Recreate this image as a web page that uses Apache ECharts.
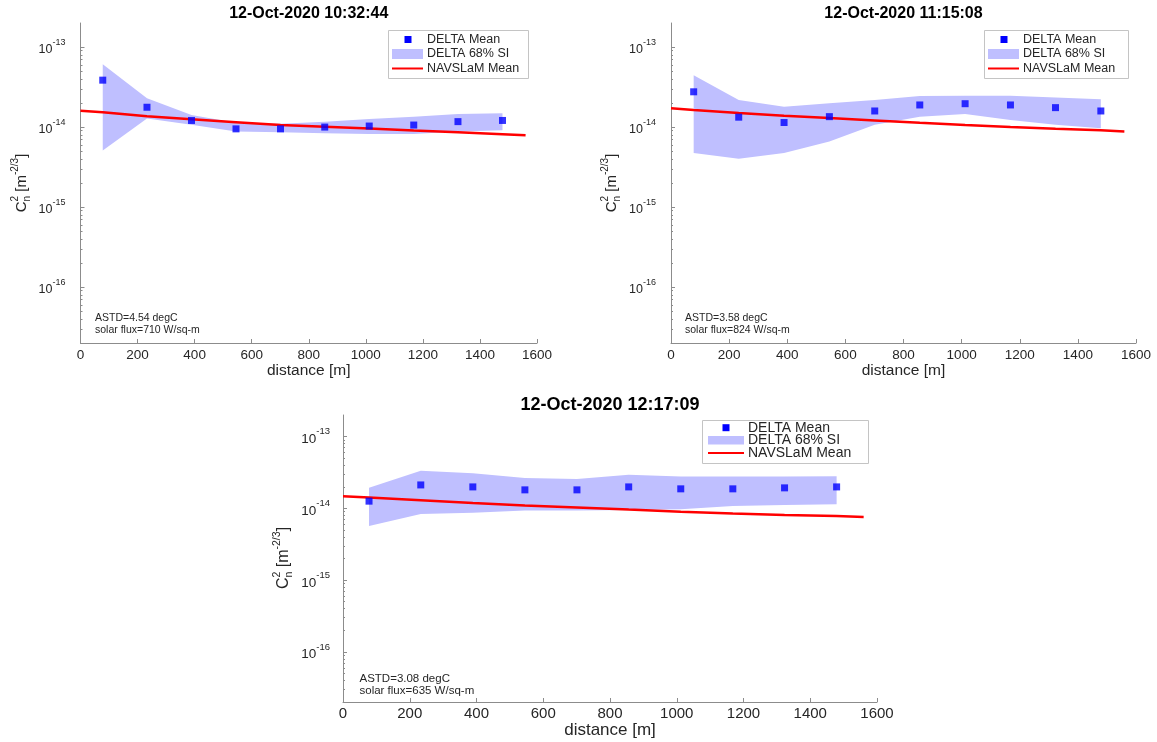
<!DOCTYPE html>
<html>
<head>
<meta charset="utf-8">
<script src="https://cdn.jsdelivr.net/npm/echarts@6/dist/echarts.min.js"></script>
<style>
  html, body { margin: 0; padding: 0; background: #fff; }
  #chart { width: 1157px; height: 742px; }
</style>
</head>
<body>
<div id="chart"></div>
<script>
// Distances along the path [m] at which DELTA statistics are reported
const distance = [78, 233, 389, 545, 701, 856, 1012, 1168, 1323, 1479];
// Distances at which the NAVSLaM model curve is sampled [m]
const navDistance = [0, 78, 233, 389, 545, 701, 856, 1012, 1168, 1323, 1479, 1560];

const titles = ['12-Oct-2020 10:32:44', '12-Oct-2020 11:15:08', '12-Oct-2020 12:17:09'];
const notesASTD = ['ASTD=4.54 degC', 'ASTD=3.58 degC', 'ASTD=3.08 degC'];
const notesFlux = ['solar flux=710 W/sq-m', 'solar flux=824 W/sq-m', 'solar flux=635 W/sq-m'];

const xTicks = [0, 200, 400, 600, 800, 1000, 1200, 1400, 1600];
const yTicks = [1e-16, 1e-15, 1e-14, 1e-13];
const yRange = [2e-17, 2e-13];

// 10:32:44
const deltaMean1 = [3.86e-14, 1.77e-14, 1.21e-14, 9.5e-15, 9.5e-15, 1.0e-14, 1.03e-14, 1.06e-14, 1.17e-14, 1.21e-14];
const deltaLow1  = [5.1e-15, 1.28e-14, 1.07e-14, 8.8e-15, 8.6e-15, 8.4e-15, 8.2e-15, 8.2e-15, 8.8e-15, 9.1e-15];
const deltaHigh1 = [6.1e-14, 2.29e-14, 1.42e-14, 1.13e-14, 1.1e-14, 1.17e-14, 1.26e-14, 1.35e-14, 1.46e-14, 1.49e-14];
const navslam1   = [1.6e-14, 1.53e-14, 1.37e-14, 1.25e-14, 1.15e-14, 1.06e-14, 1.01e-14, 9.6e-15, 9.05e-15, 8.6e-15, 8.15e-15, 7.9e-15];

// 11:15:08
const deltaMean2 = [2.76e-14, 1.33e-14, 1.14e-14, 1.35e-14, 1.59e-14, 1.89e-14, 1.96e-14, 1.89e-14, 1.75e-14, 1.59e-14];
const deltaLow2  = [4.74e-15, 4.03e-15, 4.74e-15, 6.6e-15, 1.07e-14, 1.35e-14, 1.46e-14, 1.23e-14, 1.07e-14, 9.7e-15];
const deltaHigh2 = [4.45e-14, 2.18e-14, 1.8e-14, 1.98e-14, 2.18e-14, 2.44e-14, 2.46e-14, 2.46e-14, 2.35e-14, 2.22e-14];
const navslam2   = [1.72e-14, 1.64e-14, 1.5e-14, 1.39e-14, 1.3e-14, 1.21e-14, 1.13e-14, 1.06e-14, 1.0e-14, 9.5e-15, 9.1e-15, 8.8e-15];

// 12:17:09
const deltaMean3 = [1.26e-14, 2.12e-14, 1.99e-14, 1.81e-14, 1.81e-14, 1.99e-14, 1.87e-14, 1.87e-14, 1.93e-14, 1.99e-14];
const deltaLow3  = [5.69e-15, 8.35e-15, 8.7e-15, 9.3e-15, 9.3e-15, 9.5e-15, 9.7e-15, 1.08e-14, 1.11e-14, 1.14e-14];
const deltaHigh3 = [1.93e-14, 3.35e-14, 3.08e-14, 2.65e-14, 2.57e-14, 2.95e-14, 2.77e-14, 2.77e-14, 2.77e-14, 2.8e-14];
const navslam3   = [1.48e-14, 1.42e-14, 1.3e-14, 1.19e-14, 1.1e-14, 1.03e-14, 9.6e-15, 9.0e-15, 8.5e-15, 8.1e-15, 7.8e-15, 7.6e-15];

const FONT = "'Liberation Sans', Arial, Helvetica, sans-serif";
const axisColor = '#8c8c8c';
const textColor = '#262626';
const bandColor = '#bfbfff';
const markerColor = '#0000ff';
const lineColor = '#ff0000';

// minor ticks of the log axis: 2..9 times each decade inside the range
const minorTicks = [];
for (let e = -17; e <= -14; e++) {
  for (let k = 2; k <= 9; k++) {
    const v = k * Math.pow(10, e);
    if (v >= yRange[0] * 0.999 && v <= yRange[1] * 1.001) minorTicks.push(v);
  }
}

const panels = [
  {
    title: titles[0], mean: deltaMean1, low: deltaLow1, high: deltaHigh1, nav: navslam1,
    astd: notesASTD[0], flux: notesFlux[0],
    grid: { left: 80.5, top: 23, width: 456.5, height: 320 },
    titleTop: 6, titleSize: 16, tickSize: 13.5, yBase: 12.5, ySup: 9, yMargin: 15, xMargin: 5,
    nameSize: 15.5, nameGap: 19,
    legend: { x: 388, y: 30, w: 140, h: 48, rows: [9.5, 24, 38.5], marker: 20, bandX: [4, 35], bandH: 10, textX: 39, font: 12.5 },
    note: { x: 95, y1: 318, y2: 330, font: 10.5 },
    ylabel: { x: 22, y: 183, big: 15, small: 10 }
  },
  {
    title: titles[1], mean: deltaMean2, low: deltaLow2, high: deltaHigh2, nav: navslam2,
    astd: notesASTD[1], flux: notesFlux[1],
    grid: { left: 671, top: 23, width: 465, height: 320 },
    titleTop: 6, titleSize: 16, tickSize: 13.5, yBase: 12.5, ySup: 9, yMargin: 15, xMargin: 5,
    nameSize: 15.5, nameGap: 19,
    legend: { x: 984, y: 30, w: 144, h: 48, rows: [9.5, 24, 38.5], marker: 20, bandX: [4, 35], bandH: 10, textX: 39, font: 12.5 },
    note: { x: 685, y1: 318, y2: 330, font: 10.5 },
    ylabel: { x: 612, y: 183, big: 15, small: 10 }
  },
  {
    title: titles[2], mean: deltaMean3, low: deltaLow3, high: deltaHigh3, nav: navslam3,
    astd: notesASTD[2], flux: notesFlux[2],
    grid: { left: 343, top: 415, width: 534, height: 287 },
    titleTop: 396, titleSize: 18, tickSize: 15, yBase: 13.5, ySup: 9.5, yMargin: 13, xMargin: 4,
    nameSize: 17, nameGap: 17,
    legend: { x: 702, y: 420, w: 166, h: 43, rows: [7.7, 20.2, 33.1], marker: 24, bandX: [6, 42], bandH: 8.5, textX: 46, font: 14 },
    note: { x: 359.5, y1: 679, y2: 690.5, font: 11.5 },
    ylabel: { x: 284, y: 558, big: 16, small: 10.5 }
  }
];

function txt(x, y, text, size, opts) {
  opts = opts || {};
  return {
    type: 'text', x: x, y: y, z: 100,
    style: {
      text: text,
      font: (opts.weight || 'normal') + ' ' + size + 'px ' + FONT,
      fill: opts.fill || textColor,
      align: opts.align || 'left',
      verticalAlign: opts.valign || 'middle',
      textAlign: opts.align || 'left',
      textVerticalAlign: opts.valign || 'middle'
    }
  };
}

// Rotated y-axis title: C_n^2 [m^-2/3]
function yLabel(p) {
  const L = p.ylabel, B = L.big, S = L.small;
  const wC = 0.722 * B, w2 = 0.556 * S, wM = (0.278 + 0.278 + 0.833) * B;
  const wE = (0.333 + 0.556 + 0.278 + 0.556) * S, wR = 0.278 * B;
  const total = wC + w2 + wM + wE + wR;
  let x = -total / 2;
  const kids = [];
  kids.push(txt(x, 0, 'C', B)); x += wC;
  kids.push(txt(x, -0.42 * B, '2', S));
  kids.push(txt(x, 0.33 * B, 'n', S)); x += w2;
  kids.push(txt(x, 0, ' [m', B)); x += wM;
  kids.push(txt(x, -0.42 * B, '-2/3', S)); x += wE;
  kids.push(txt(x, 0, ']', B));
  return { type: 'group', x: L.x, y: L.y, rotation: Math.PI / 2, z: 100, children: kids };
}

function legendBox(p) {
  const g = p.legend;
  const items = [];
  items.push({
    type: 'rect', z: 99,
    shape: { x: g.x + 0.5, y: g.y + 0.5, width: g.w, height: g.h },
    style: { fill: '#ffffff', stroke: '#c4c4c4', lineWidth: 1 }
  });
  // DELTA Mean
  items.push({
    type: 'rect', z: 100,
    shape: { x: g.x + g.marker - 3.5, y: g.y + g.rows[0] - 3.5, width: 7, height: 7 },
    style: { fill: markerColor }
  });
  // DELTA 68% SI
  items.push({
    type: 'rect', z: 100,
    shape: { x: g.x + g.bandX[0], y: g.y + g.rows[1] - g.bandH / 2, width: g.bandX[1] - g.bandX[0], height: g.bandH },
    style: { fill: bandColor }
  });
  // NAVSLaM Mean
  items.push({
    type: 'line', z: 100,
    shape: { x1: g.x + g.bandX[0], y1: g.y + g.rows[2], x2: g.x + g.bandX[1], y2: g.y + g.rows[2] },
    style: { stroke: lineColor, lineWidth: 2 }
  });
  items.push(txt(g.x + g.textX, g.y + g.rows[0], 'DELTA Mean', g.font));
  items.push(txt(g.x + g.textX, g.y + g.rows[1], 'DELTA 68% SI', g.font));
  items.push(txt(g.x + g.textX, g.y + g.rows[2], 'NAVSLaM Mean', g.font));
  return items;
}

const option = {
  animation: false,
  backgroundColor: '#ffffff',
  title: [],
  grid: [],
  xAxis: [],
  yAxis: [],
  series: [],
  graphic: []
};

panels.forEach((p, i) => {
  option.title.push({
    text: p.title,
    left: p.grid.left + p.grid.width / 2,
    top: p.titleTop,
    textAlign: 'center',
    padding: 0,
    textStyle: { fontFamily: FONT, fontSize: p.titleSize, fontWeight: 'bold', color: '#000' }
  });

  option.grid.push(Object.assign({ containLabel: false, outerBoundsMode: 'none', show: false }, p.grid));

  option.xAxis.push({
    gridIndex: i,
    type: 'value',
    min: xTicks[0], max: xTicks[xTicks.length - 1], interval: xTicks[1] - xTicks[0],
    name: 'distance [m]',
    nameLocation: 'middle',
    nameGap: p.nameGap,
    nameTextStyle: { fontFamily: FONT, fontSize: p.nameSize, color: textColor },
    axisLine: { show: true, onZero: false, lineStyle: { color: axisColor, width: 1 } },
    axisTick: { show: true, inside: true, length: 4, lineStyle: { color: axisColor } },
    axisLabel: {
      fontFamily: FONT, fontSize: p.tickSize, color: textColor, margin: p.xMargin,
      formatter: v => String(v)
    },
    splitLine: { show: false }
  });

  // main log axis with decade labels
  option.yAxis.push({
    gridIndex: i,
    type: 'log', logBase: 10,
    min: yRange[0], max: yRange[1],
    position: 'left',
    axisLine: { show: true, onZero: false, lineStyle: { color: axisColor, width: 1 } },
    axisTick: { show: true, inside: true, length: 4, customValues: yTicks, lineStyle: { color: axisColor } },
    axisLabel: {
      customValues: yTicks,
      margin: p.yMargin,
      formatter: v => '{b|10}{s|' + Math.round(Math.log10(v)) + '}',
      rich: {
        b: { fontFamily: FONT, fontSize: p.yBase, color: textColor, lineHeight: p.yBase + 6, verticalAlign: 'bottom' },
        s: { fontFamily: FONT, fontSize: p.ySup, color: textColor, lineHeight: p.ySup + 1, verticalAlign: 'top' }
      }
    },
    splitLine: { show: false },
    minorTick: { show: false }
  });
  // companion axis carrying the minor ticks
  option.yAxis.push({
    gridIndex: i,
    type: 'log', logBase: 10,
    min: yRange[0], max: yRange[1],
    position: 'left',
    axisLine: { show: false },
    axisTick: { show: true, inside: true, length: 2, customValues: minorTicks, lineStyle: { color: axisColor } },
    axisLabel: { show: false },
    splitLine: { show: false }
  });

  const low = p.low, high = p.high;
  option.series.push({
    type: 'custom',
    name: 'DELTA 68% SI',
    xAxisIndex: i, yAxisIndex: 2 * i,
    z: 1, silent: true,
    data: distance.map((d, k) => [d, low[k], high[k]]),
    encode: { x: 0, y: [1, 2] },
    renderItem: (params, api) => {
      if (params.dataIndex !== 0) return null;
      const upper = distance.map((d, k) => api.coord([d, high[k]]));
      const lower = distance.map((d, k) => api.coord([d, low[k]])).reverse();
      return { type: 'polygon', shape: { points: upper.concat(lower) }, style: { fill: bandColor } };
    }
  });
  option.series.push({
    type: 'line',
    name: 'NAVSLaM Mean',
    xAxisIndex: i, yAxisIndex: 2 * i,
    z: 3, silent: true,
    data: navDistance.map((d, k) => [d, p.nav[k]]),
    symbol: 'none',
    lineStyle: { color: lineColor, width: 2.5 }
  });
  option.series.push({
    type: 'scatter',
    name: 'DELTA Mean',
    xAxisIndex: i, yAxisIndex: 2 * i,
    z: 4, silent: true,
    data: distance.map((d, k) => [d, p.mean[k]]),
    symbol: 'rect',
    symbolSize: 7,
    itemStyle: { color: markerColor }
  });

  option.graphic.push(yLabel(p));
  legendBox(p).forEach(el => option.graphic.push(el));
  option.graphic.push(txt(p.note.x, p.note.y1, p.astd, p.note.font));
  option.graphic.push(txt(p.note.x, p.note.y2, p.flux, p.note.font));
});

const chart = echarts.init(document.getElementById('chart'), null, { renderer: 'canvas' });
chart.setOption(option);
</script>
</body>
</html>
